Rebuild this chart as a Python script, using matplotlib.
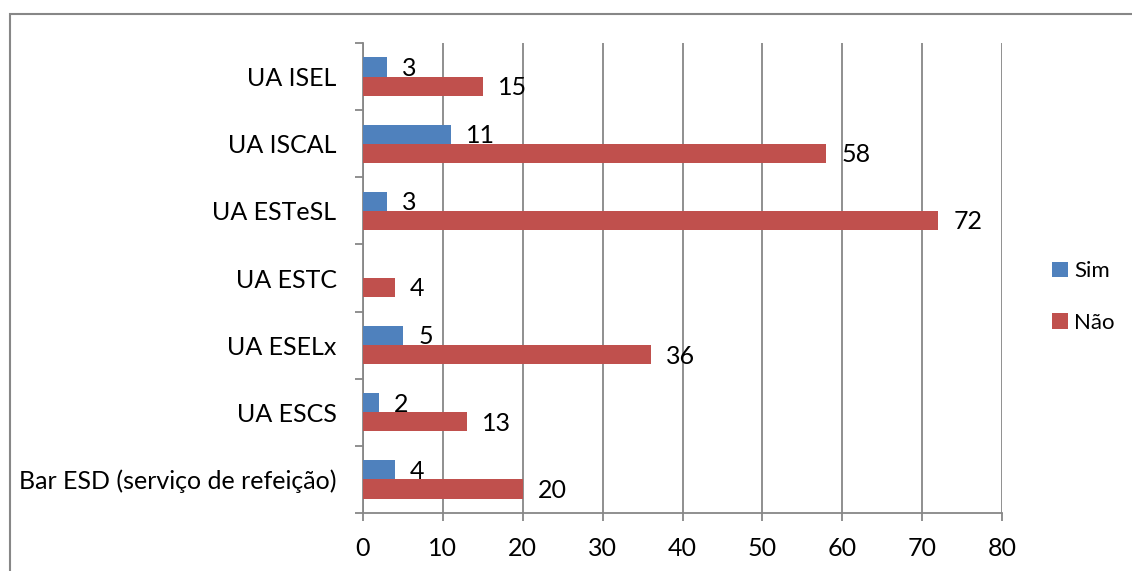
import matplotlib
matplotlib.use("Agg")
import matplotlib.pyplot as plt
import numpy as np
from matplotlib.patches import Rectangle

categories = ["Bar ESD (serviço de refeição)", "UA ESCS", "UA ESELx", "UA ESTC",
              "UA ESTeSL", "UA ISCAL", "UA ISEL"]
sim = [4, 2, 5, None, 3, 11, 3]
nao = [20, 13, 36, 4, 72, 58, 15]
series_names = ["Sim", "Não"]
xticks = [0, 10, 20, 30, 40, 50, 60, 70, 80]

plt.rcParams['font.family'] = ['Lato', 'DejaVu Sans']

BLUE = "#4F81BD"
RED = "#C0504D"
GRAY = "#878787"
FS = 18

fig = plt.figure(figsize=(11.32, 5.71), dpi=100)
ax = fig.add_axes([363/1132, 1-513/571, (1002-363)/1132, (513-43)/571])

y = np.arange(len(categories))
h = 0.285
sim_vals = np.array([np.nan if v is None else v for v in sim], dtype=float)
nao_vals = np.array(nao, dtype=float)

ax.barh(y + h/2, sim_vals, height=h, color=BLUE, label=series_names[0], zorder=3)
ax.barh(y - h/2, nao_vals, height=h, color=RED, label=series_names[1], zorder=3)

for yi, v in zip(y, sim_vals):
    if not np.isnan(v):
        ax.annotate(f"{int(v)}", (v, yi + h/2), xytext=(11, -1), textcoords="offset points",
                    ha="left", va="center", fontsize=FS)
for yi, v in zip(y, nao_vals):
    ax.annotate(f"{int(v)}", (v, yi - h/2), xytext=(11, -1), textcoords="offset points",
                ha="left", va="center", fontsize=FS)

ax.set_xlim(0, 80)
ax.set_ylim(-0.5, len(categories) - 0.5)
ax.set_xticks(xticks)
ax.set_xticklabels([str(t) for t in xticks], fontsize=FS)
ax.set_yticks(np.arange(-0.5, len(categories), 1.0))
ax.set_yticklabels([])
ax.set_yticks(y, minor=True)
ax.set_yticklabels(categories, minor=True, fontsize=FS)
ax.tick_params(axis="y", which="major", length=6, color=GRAY, width=1.3)
ax.tick_params(axis="y", which="minor", length=0, pad=19)
ax.tick_params(axis="x", which="major", length=6, color=GRAY, width=1.3, pad=11)

ax.grid(axis="x", color=GRAY, linewidth=1.3, zorder=0)
for s in ["top", "right"]:
    ax.spines[s].set_visible(False)
for s in ["left", "bottom"]:
    ax.spines[s].set_color(GRAY)
    ax.spines[s].set_linewidth(1.3)

leg = ax.legend(loc="center left", bbox_to_anchor=(1052/1132, 1 - 297/571), bbox_transform=fig.transFigure,
                frameon=False, fontsize=16, handlelength=0.7, handleheight=0.7,
                handletextpad=0.3, labelspacing=1.4, borderpad=0, borderaxespad=0)

fig.patches.append(Rectangle((10/1132, -0.2), 1.2, 1.2 - 14/571, transform=fig.transFigure,
                             fill=False, edgecolor=GRAY, linewidth=1.5))

fig.savefig("out.png", dpi=100)
